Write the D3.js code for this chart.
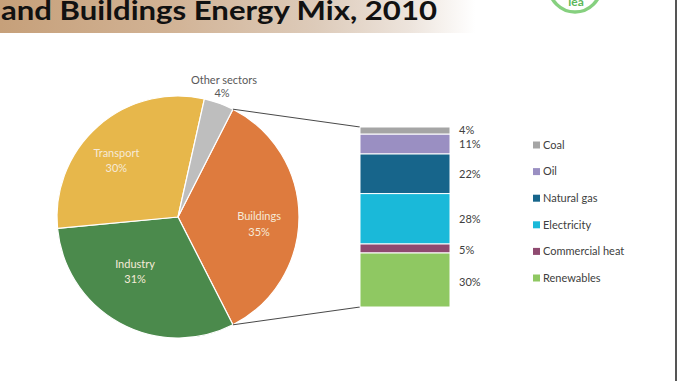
<!DOCTYPE html>
<html>
<head>
<meta charset="utf-8">
<script src="https://d3js.org/d3.v7.min.js"></script>
<style>
  body { margin: 0; background: #fff; }
  svg { display: block; font-family: Lato, "Open Sans", sans-serif; }
</style>
</head>
<body>
<div id="chart"></div>
<script>
// sector shares (pie)
const sectors = ["Buildings", "Industry", "Transport", "Other sectors"];
const sectorShares = [35, 31, 30, 4];
const sectorColors = ["#de7b3e", "#4b8a4c", "#e7b74b", "#bebebe"];

// buildings energy mix (stacked bar, top to bottom)
const fuels = ["Coal", "Oil", "Natural gas", "Electricity", "Commercial heat", "Renewables"];
const fuelShares = [4, 11, 22, 28, 5, 30];
const fuelColors = ["#a5a5a5", "#9a8fc2", "#17658b", "#1ab9d9", "#8f4a70", "#8fc862"];

const width = 678, height = 381;

const svg = d3.select("#chart").append("svg")
    .attr("width", width)
    .attr("height", height);

// title banner, fading out to the right
const defs = svg.append("defs");
const grad = defs.append("linearGradient").attr("id", "banner");
[["0%", "#c6a07a"], ["25%", "#d1b294"], ["48%", "#ddcbba"], ["62%", "#ede4dc"], ["72%", "#ffffff"]]
    .forEach(([o, c]) => grad.append("stop").attr("offset", o).attr("stop-color", c));
svg.append("rect").attr("x", 0).attr("y", 0).attr("width", 660).attr("height", 33)
    .attr("fill", "url(#banner)");

svg.append("text")
    .attr("x", 1).attr("y", 20)
    .attr("font-size", 27).attr("font-weight", 700)
    .attr("fill", "#111")
    .attr("textLength", 436).attr("lengthAdjust", "spacingAndGlyphs")
    .text("and Buildings Energy Mix, 2010");

// logo ring, cut by the top edge
svg.append("circle").attr("cx", 575).attr("cy", -14).attr("r", 26)
    .attr("fill", "none").attr("stroke", "#86d07f").attr("stroke-width", 3.5);
svg.append("text").attr("x", 576).attr("y", 6).attr("text-anchor", "middle")
    .attr("font-size", 12).attr("font-weight", 700).attr("fill", "#5cb85a").text("iea");

// slide border on the right
svg.append("rect").attr("x", 675).attr("y", 0).attr("width", 2).attr("height", height)
    .attr("fill", "#555");

// ---- pie ----
const cx = 178, cy = 217, R = 121;
const start = 27 * Math.PI / 180;

const pie = d3.pie().sort(null).startAngle(start).endAngle(start + 2 * Math.PI);
const arcs = pie(sectorShares);
const arc = d3.arc().innerRadius(0).outerRadius(R);

const gPie = svg.append("g").attr("transform", `translate(${cx},${cy})`);
gPie.selectAll("path")
    .data(arcs)
    .join("path")
    .attr("d", arc)
    .attr("fill", (d, i) => sectorColors[i])
    .attr("stroke", "#fff")
    .attr("stroke-width", 1.2);

// inner labels (best-fit style spots)
const labelFactor = [0.67, 0.6, 0.72];
const labelNudge = [[0, 6], [-8, -10], [-4, 8]];
arcs.slice(0, 3).forEach((d, i) => {
    const r = R * labelFactor[i];
    const c = d3.arc().innerRadius(r).outerRadius(r).centroid(d);
    const lx = c[0] + labelNudge[i][0], ly = c[1] + labelNudge[i][1];
    const t = gPie.append("text")
        .attr("x", lx).attr("y", ly)
        .attr("text-anchor", "middle")
        .attr("font-size", 11).attr("fill", "#f6ead8");
    t.append("tspan").attr("x", lx).attr("dy", "-0.25em").text(sectors[i]);
    t.append("tspan").attr("x", lx).attr("dy", "1.4em").text(sectorShares[i] + "%");
});

// outside label for the small slice
const other = svg.append("text").attr("text-anchor", "middle")
    .attr("font-size", 11).attr("fill", "#595959");
other.append("tspan").attr("x", 224).attr("y", 84).text(sectors[3]);
other.append("tspan").attr("x", 222).attr("y", 97).text(sectorShares[3] + "%");

// ---- stacked bar ----
const barX = 360, barW = 90;
const y = d3.scaleLinear().domain([0, d3.sum(fuelShares)]).range([127, 307]);
const cum = d3.cumsum([0, ...fuelShares]);

// connector lines from buildings slice to bar
const b = arcs[0];
const pt = a => [cx + R * Math.sin(a), cy - R * Math.cos(a)];
const p0 = pt(b.startAngle), p1 = pt(b.endAngle);
svg.append("line").attr("x1", p0[0]).attr("y1", p0[1]).attr("x2", barX).attr("y2", y(0))
    .attr("stroke", "#333").attr("stroke-width", 0.9);
svg.append("line").attr("x1", p1[0]).attr("y1", p1[1]).attr("x2", barX).attr("y2", y(100))
    .attr("stroke", "#333").attr("stroke-width", 0.9);

svg.selectAll("rect.seg")
    .data(fuelShares)
    .join("rect")
    .attr("class", "seg")
    .attr("x", barX)
    .attr("y", (d, i) => y(cum[i]))
    .attr("width", barW)
    .attr("height", d => y(d) - y(0))
    .attr("fill", (d, i) => fuelColors[i])
    .attr("stroke", "#fff")
    .attr("stroke-width", 1);

// value labels
const labelShift = [0, 0.5, 0, 0, 1.5, 2];
svg.selectAll("text.val")
    .data(fuelShares)
    .join("text")
    .attr("class", "val")
    .attr("x", 459)
    .attr("y", (d, i) => y(cum[i] + d / 2) + labelShift[i])
    .attr("dy", "0.35em")
    .attr("font-size", 11)
    .attr("fill", "#404040")
    .text(d => d + "%");

// legend
const legY = d3.scalePoint().domain(fuels).range([145, 278]);
const leg = svg.selectAll("g.leg")
    .data(fuels)
    .join("g")
    .attr("class", "leg")
    .attr("transform", d => `translate(533,${legY(d)})`);
leg.append("rect").attr("x", 0).attr("y", -3.5).attr("width", 7).attr("height", 7)
    .attr("fill", (d, i) => fuelColors[i]);
leg.append("text").attr("x", 10).attr("dy", "0.35em")
    .attr("font-size", 11).attr("fill", "#404040").text(d => d);
</script>
</body>
</html>
